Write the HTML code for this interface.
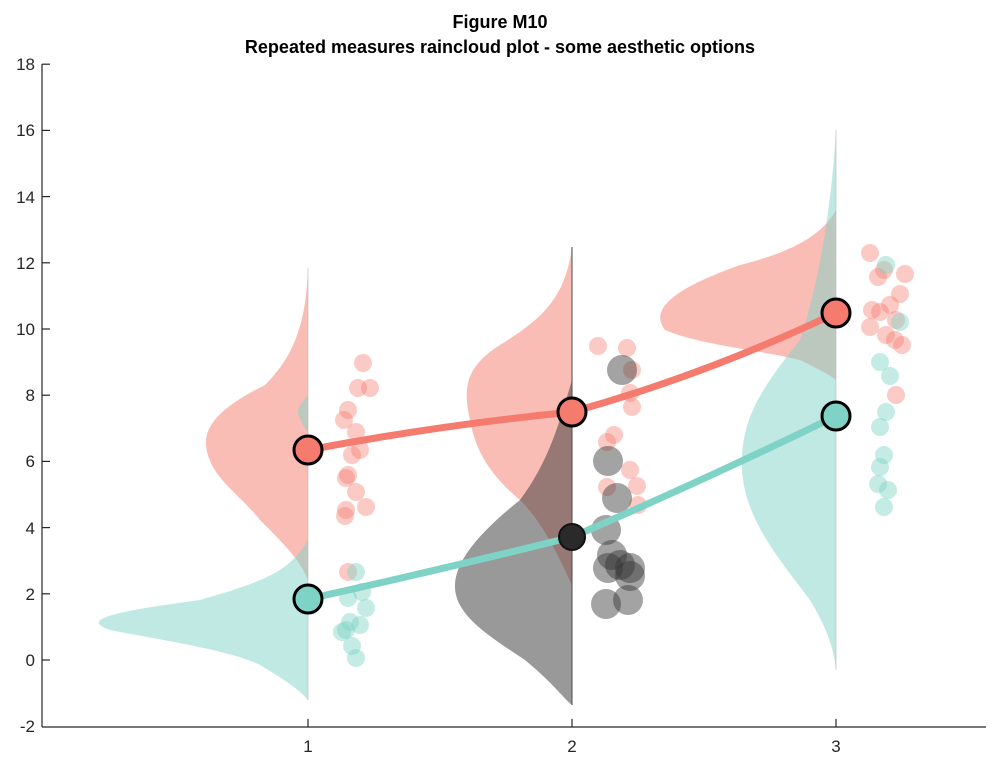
<!DOCTYPE html>
<html><head><meta charset="utf-8"><style>
body{margin:0;background:#fff}
svg{display:block}
text{font-family:"Liberation Sans",Arial,sans-serif}
</style></head><body>
<svg width="1000" height="763" viewBox="0 0 1000 763" xmlns="http://www.w3.org/2000/svg">
<text x="500" y="28" text-anchor="middle" font-size="18" font-weight="bold">Figure M10</text>
<text x="500" y="53" text-anchor="middle" font-size="18" font-weight="bold">Repeated measures raincloud plot - some aesthetic options</text>

<!-- clouds -->
<path fill="#f47b6e" fill-opacity="0.5" d="M308,268 C306,330 290,360 265,385 C215,410 200,430 208,455 C215,480 240,495 260,520 C285,545 300,560 308,580 Z"/>
<path fill="#7fd3c6" fill-opacity="0.5" d="M308,540 C290,570 270,580 200,600 C110,612 80,620 110,630 C160,640 230,650 260,665 C285,680 300,690 308,700 Z"/>
<path fill="#7fd3c6" fill-opacity="0.5" d="M308,395 C300,405 295,410 300,418 C302,425 306,430 308,432 Z"/>
<path fill="#f47b6e" fill-opacity="0.5" d="M572,247 C565,300 540,320 500,345 C460,370 465,395 470,420 C475,450 490,475 520,500 C545,525 560,560 572,585 Z"/>
<path fill="#333" fill-opacity="0.5" d="M572,380 C560,420 550,460 520,500 C470,540 450,570 456,595 C462,620 495,640 525,660 C555,685 565,700 572,705 Z"/>
<path fill="#f47b6e" fill-opacity="0.5" d="M836,210 C820,240 780,255 740,265 C670,290 650,310 665,330 C700,345 760,350 800,360 C820,370 830,375 836,380 Z"/>
<path fill="#7fd3c6" fill-opacity="0.5" d="M836,130 C832,200 820,280 800,340 C760,390 740,420 742,470 C745,520 780,560 810,600 C828,630 834,650 836,670 Z"/>
<line x1="572" y1="247" x2="572" y2="705" stroke="#555" stroke-width="1.5" opacity="0.7"/>
<line x1="308" y1="268" x2="308" y2="700" stroke="#bbb" stroke-width="1" opacity="0.6"/>
<line x1="836" y1="130" x2="836" y2="670" stroke="#bbb" stroke-width="1" opacity="0.6"/>

<!-- rain dots -->
<g fill="#f47b6e" fill-opacity="0.4">
<circle cx="363" cy="363" r="9"/><circle cx="358" cy="388" r="9"/><circle cx="370" cy="388" r="9"/>
<circle cx="348" cy="410" r="9"/><circle cx="344" cy="420" r="9"/><circle cx="356" cy="432" r="9"/>
<circle cx="360" cy="450" r="9"/><circle cx="352" cy="455" r="9"/><circle cx="348" cy="475" r="9"/>
<circle cx="346" cy="478" r="9"/><circle cx="356" cy="492" r="9"/><circle cx="346" cy="510" r="9"/>
<circle cx="366" cy="507" r="9"/><circle cx="345" cy="516" r="9"/><circle cx="348" cy="572" r="9"/>
<circle cx="598" cy="346" r="9"/><circle cx="627" cy="348" r="9"/><circle cx="632" cy="370" r="9"/>
<circle cx="630" cy="393" r="9"/><circle cx="632" cy="407" r="9"/><circle cx="614" cy="435" r="9"/>
<circle cx="607" cy="442" r="9"/><circle cx="630" cy="470" r="9"/><circle cx="607" cy="487" r="9"/>
<circle cx="637" cy="486" r="9"/><circle cx="638" cy="505" r="9"/>
<circle cx="870" cy="253" r="9"/><circle cx="884" cy="270" r="9"/><circle cx="878" cy="277" r="9"/>
<circle cx="905" cy="274" r="9"/><circle cx="900" cy="294" r="9"/><circle cx="890" cy="305" r="9"/>
<circle cx="872" cy="310" r="9"/><circle cx="880" cy="312" r="9"/><circle cx="896" cy="320" r="9"/>
<circle cx="870" cy="327" r="9"/><circle cx="886" cy="335" r="9"/><circle cx="902" cy="345" r="9"/>
<circle cx="895" cy="340" r="9"/><circle cx="896" cy="395" r="9"/>
</g>
<g fill="#7fd3c6" fill-opacity="0.45">
<circle cx="356" cy="572" r="9"/><circle cx="362" cy="592" r="9"/><circle cx="348" cy="598" r="9"/>
<circle cx="366" cy="608" r="9"/><circle cx="350" cy="622" r="9"/><circle cx="346" cy="630" r="9"/>
<circle cx="360" cy="625" r="9"/><circle cx="342" cy="632" r="9"/><circle cx="352" cy="646" r="9"/>
<circle cx="356" cy="658" r="9"/>
<circle cx="886" cy="265" r="9"/><circle cx="900" cy="322" r="9"/><circle cx="880" cy="362" r="9"/>
<circle cx="890" cy="376" r="9"/><circle cx="886" cy="412" r="9"/><circle cx="880" cy="427" r="9"/>
<circle cx="884" cy="455" r="9"/><circle cx="880" cy="467" r="9"/><circle cx="878" cy="484" r="9"/>
<circle cx="888" cy="490" r="9"/><circle cx="884" cy="507" r="9"/>
</g>
<g fill="#333" fill-opacity="0.45">
<circle cx="622" cy="370" r="15"/><circle cx="608" cy="461" r="15"/><circle cx="617" cy="498" r="15"/>
<circle cx="606" cy="530" r="15"/><circle cx="612" cy="555" r="15"/><circle cx="620" cy="565" r="15"/>
<circle cx="630" cy="568" r="15"/><circle cx="608" cy="568" r="15"/><circle cx="630" cy="576" r="15"/>
<circle cx="606" cy="604" r="15"/><circle cx="628" cy="600" r="15"/>
</g>

<!-- lines -->
<path d="M308,450 Q440,425 572,412 Q705,375 836,313" fill="none" stroke="#f47b6e" stroke-width="7"/>
<path d="M308,599 Q440,570 572,537 Q705,480 836,416" fill="none" stroke="#7fd3c6" stroke-width="7"/>
<circle cx="308" cy="450" r="14" fill="#f47b6e" stroke="#000" stroke-width="3"/>
<circle cx="572" cy="412" r="14" fill="#f47b6e" stroke="#000" stroke-width="3"/>
<circle cx="836" cy="313" r="14" fill="#f47b6e" stroke="#000" stroke-width="3"/>
<circle cx="308" cy="599" r="14" fill="#7fd3c6" stroke="#000" stroke-width="3"/>
<circle cx="572" cy="537" r="13" fill="#2a2a2a" stroke="#111" stroke-width="2"/>
<circle cx="836" cy="416" r="14" fill="#7fd3c6" stroke="#000" stroke-width="3"/>

<!-- axes -->
<g stroke="#262626" stroke-width="1.2" fill="none">
<line x1="42" y1="64" x2="42" y2="727"/>
<line x1="42" y1="727" x2="986" y2="727"/>
<line x1="42" y1="64.2" x2="50" y2="64.2"/><line x1="42" y1="130.4" x2="50" y2="130.4"/>
<line x1="42" y1="196.6" x2="50" y2="196.6"/><line x1="42" y1="262.8" x2="50" y2="262.8"/>
<line x1="42" y1="329" x2="50" y2="329"/><line x1="42" y1="395.2" x2="50" y2="395.2"/>
<line x1="42" y1="461.4" x2="50" y2="461.4"/><line x1="42" y1="527.6" x2="50" y2="527.6"/>
<line x1="42" y1="593.8" x2="50" y2="593.8"/><line x1="42" y1="660" x2="50" y2="660"/>
<line x1="308" y1="727" x2="308" y2="719"/><line x1="572" y1="727" x2="572" y2="719"/><line x1="836" y1="727" x2="836" y2="719"/>
</g>
<g font-size="17" fill="#262626" text-anchor="end">
<text x="35" y="70">18</text><text x="35" y="136">16</text><text x="35" y="203">14</text>
<text x="35" y="269">12</text><text x="35" y="335">10</text><text x="35" y="401">8</text>
<text x="35" y="467">6</text><text x="35" y="534">4</text><text x="35" y="600">2</text>
<text x="35" y="666">0</text><text x="35" y="732">-2</text>
</g>
<g font-size="17" fill="#262626" text-anchor="middle">
<text x="308" y="752">1</text><text x="572" y="752">2</text><text x="836" y="752">3</text>
</g>
</svg>
</body></html>
